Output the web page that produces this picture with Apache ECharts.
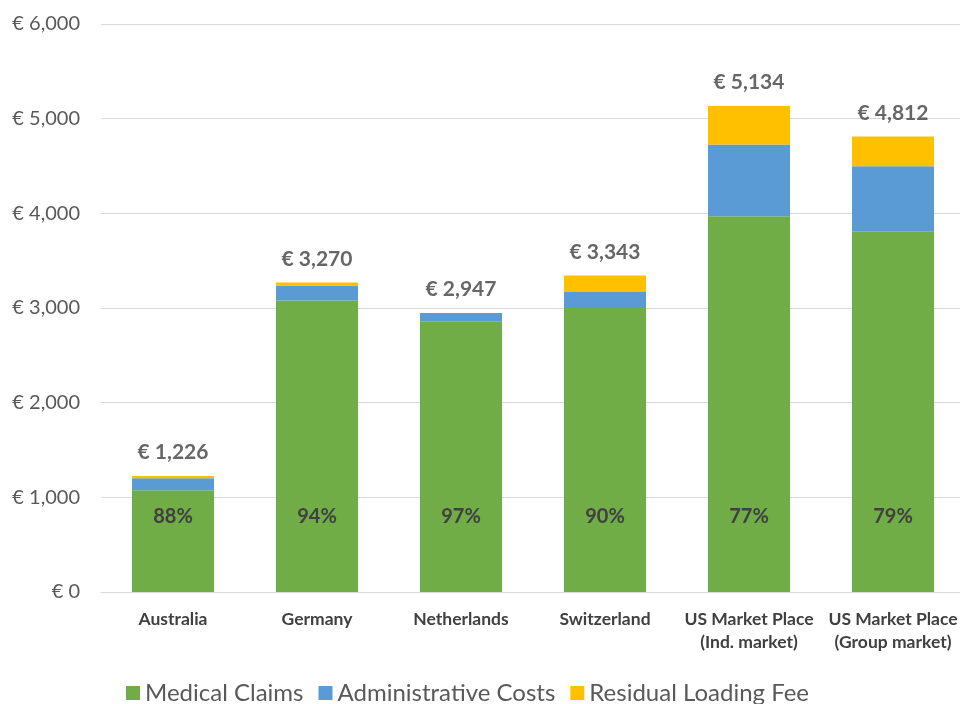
<!DOCTYPE html>
<html>
<head>
<meta charset="utf-8">
<script src="https://cdn.jsdelivr.net/npm/echarts@6/dist/echarts.min.js"></script>
<style>html,body{margin:0;padding:0;background:#fff;overflow:hidden}#c{width:970px;height:704px}</style>
</head>
<body>
<div id="c"></div>
<script>
const categories = ['Australia', 'Germany', 'Netherlands', 'Switzerland', 'US Market Place\n(Ind. market)', 'US Market Place\n(Group market)'];
const medicalClaims = [1075, 3080, 2856, 3000, 3970, 3811];
const adminCosts = [127, 158, 91, 168, 756, 686];
const residualFee = [24, 32, 0, 175, 408, 315];
const totals = [1226, 3270, 2947, 3343, 5134, 4812];
const medicalPct = [88, 94, 97, 90, 77, 79];
const yTicks = [0, 1000, 2000, 3000, 4000, 5000, 6000];

const font = 'Lato, "Open Sans", sans-serif';
const chart = echarts.init(document.getElementById('c'));
chart.setOption({
  animation: false,
  textStyle: { fontFamily: font },
  grid: { left: 101, width: 864, top: 24, bottom: 112, containLabel: false },
  legend: {
    left: 121, top: 676,
    itemWidth: 14, itemHeight: 14, itemGap: 15,
    icon: 'rect',
    textStyle: { fontSize: 24, color: '#595959', fontFamily: font },
    data: ['Medical Claims', 'Administrative Costs', 'Residual Loading Fee']
  },
  xAxis: {
    type: 'category', data: categories,
    axisLine: { lineStyle: { color: '#d9d9d9', width: 1 } },
    axisTick: { show: false },
    axisLabel: { fontSize: 17.5, fontWeight: 'bold', color: '#404040', margin: 16, lineHeight: 23, interval: 0, fontFamily: font }
  },
  yAxis: {
    type: 'value', min: 0, max: 6000, interval: 1000,
    axisLine: { show: false }, axisTick: { show: false },
    splitLine: { lineStyle: { color: '#d9d9d9', width: 1 } },
    axisLabel: {
      fontSize: 20, color: '#595959', margin: 21, fontFamily: font,
      formatter: v => '€ ' + v.toLocaleString('en-US')
    }
  },
  series: [
    {
      name: 'Medical Claims', type: 'bar', stack: 't', barWidth: 82, data: medicalClaims,
      itemStyle: { color: '#70ad47' },
      label: {
        show: true, position: 'insideBottom', distance: 65,
        fontSize: 20, fontWeight: 'bold', color: '#404040', fontFamily: font,
        formatter: p => medicalPct[p.dataIndex] + '%'
      }
    },
    { name: 'Administrative Costs', type: 'bar', stack: 't', data: adminCosts, itemStyle: { color: '#5b9bd5' } },
    { name: 'Residual Loading Fee', type: 'bar', stack: 't', data: residualFee, itemStyle: { color: '#ffc000' } },
    {
      name: 'Total', type: 'scatter', data: totals, symbolSize: 0, silent: true,
      label: {
        show: true, position: 'top', distance: 13,
        fontSize: 21, fontWeight: 'bold', color: '#404040', fontFamily: font,
        formatter: p => '€ ' + totals[p.dataIndex].toLocaleString('en-US')
      }
    }
  ]
});
</script>
</body>
</html>
